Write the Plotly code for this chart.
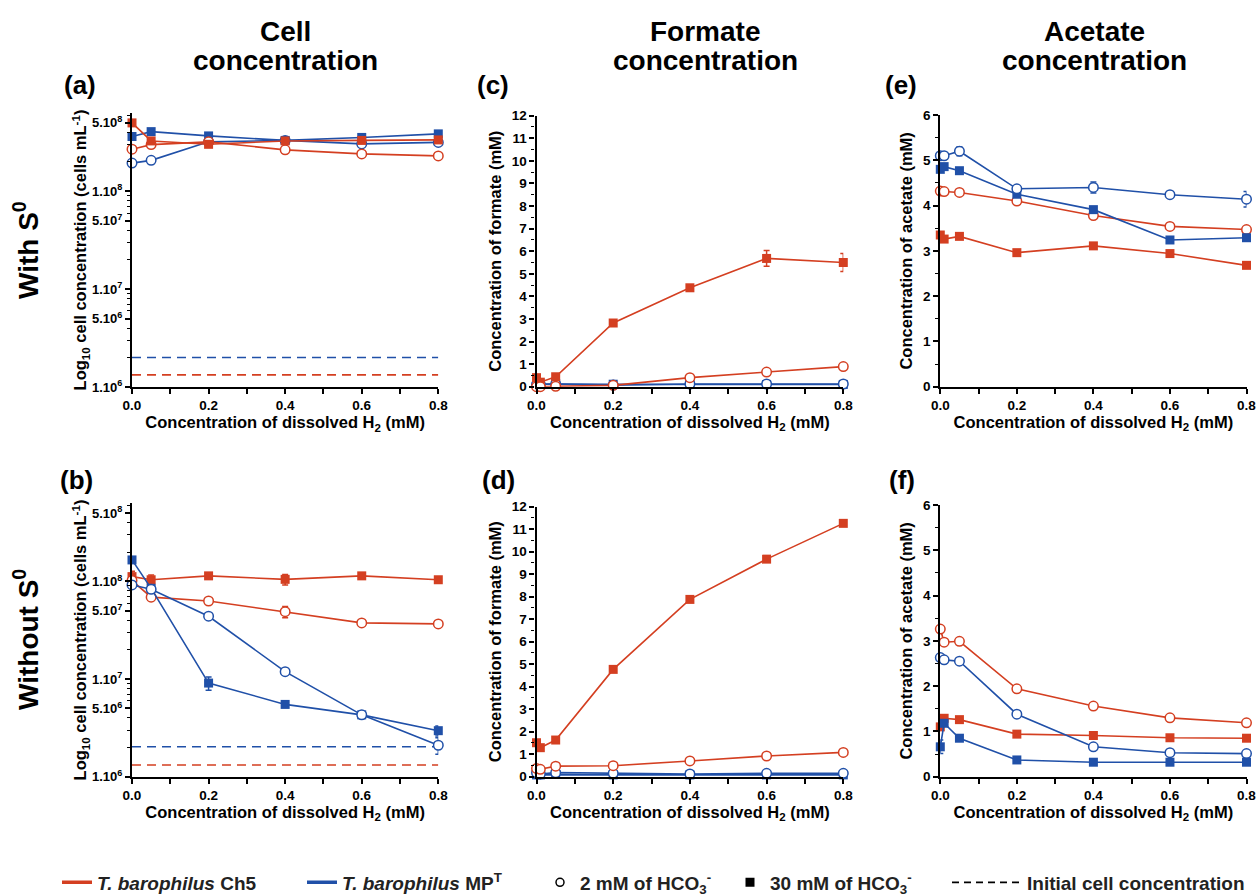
import plotly.graph_objects as go

RED = "#D43F21"
BLUE = "#2050A8"
FONT = "Liberation Sans"

# ---------------- data ----------------
x_cell = [0, 0.05, 0.2, 0.4, 0.6, 0.8]
x_acid = [0, 0.01, 0.05, 0.2, 0.4, 0.6, 0.8]
x_init = [0, 0.8]

# (a) cell concentration, with S0
a_ch5_30 = [5.0e8, 3.27e8, 3.02e8, 3.27e8, 3.31e8, 3.35e8]
a_ch5_2 = [2.69e8, 3.0e8, 3.2e8, 2.65e8, 2.41e8, 2.30e8]
a_mp_30 = [3.63e8, 4.07e8, 3.68e8, 3.31e8, 3.55e8, 3.86e8]
a_mp_2 = [1.94e8, 2.07e8, 3.2e8, 3.31e8, 3.05e8, 3.16e8]
a_init_ch5 = [1.33e6, 1.33e6]
a_init_mp = [2.0e6, 2.0e6]

# (b) cell concentration, without S0
b_ch5_30 = [1.12e8, 1.04e8, 1.14e8, 1.05e8, 1.14e8, 1.04e8]
b_ch5_30_err = [1.5e7, 1.2e7, 0, 1.3e7, 0, 0]
b_ch5_2 = [1.02e8, 6.9e7, 6.3e7, 4.9e7, 3.76e7, 3.67e7]
b_ch5_2_err = [0, 0, 0, 6.5e6, 0, 0]
b_mp_30 = [1.66e8, 8.5e7, 9.1e6, 5.5e6, 4.3e6, 2.96e6]
b_mp_30_err = [0, 0, 1.4e6, 0, 0, 3.5e5]
b_mp_2 = [9.2e7, 8.3e7, 4.4e7, 1.19e7, 4.3e6, 2.1e6]
b_mp_2_err = [0, 0, 0, 0, 3e5, 4e5]
b_init_ch5 = [1.32e6, 1.32e6]
b_init_mp = [2.03e6, 2.03e6]

# (c) formate, with S0
c_ch5_30 = [0.40, 0.20, 0.44, 2.82, 4.38, 5.68, 5.50]
c_ch5_30_err = [0, 0, 0, 0, 0.05, 0.35, 0.40]
c_ch5_2 = [0.0, 0.0, 0.02, 0.06, 0.40, 0.65, 0.89]
c_mp_30 = [0.12, 0.12, 0.14, 0.11, 0.10, 0.10, 0.10]
c_mp_2 = [0.10, 0.10, 0.12, 0.07, 0.12, 0.12, 0.12]

# (d) formate, without S0
d_ch5_30 = [1.51, 1.29, 1.63, 4.77, 7.88, 9.67, 11.26]
d_ch5_2 = [0.37, 0.33, 0.47, 0.49, 0.70, 0.92, 1.08]
d_mp_30 = [0.08, 0.08, 0.10, 0.08, 0.08, 0.08, 0.08]
d_mp_2 = [0.18, 0.12, 0.18, 0.15, 0.12, 0.15, 0.15]

# (e) acetate, with S0
e_ch5_30 = [3.35, 3.26, 3.32, 2.96, 3.11, 2.94, 2.68]
e_ch5_2 = [4.32, 4.31, 4.29, 4.10, 3.78, 3.54, 3.47]
e_mp_30 = [4.80, 4.86, 4.77, 4.25, 3.91, 3.24, 3.29]
e_mp_2 = [5.10, 5.10, 5.20, 4.37, 4.40, 4.24, 4.14]
e_mp_2_err = [0, 0, 0.10, 0, 0.12, 0, 0.17]

# (f) acetate, without S0
f_ch5_30 = [1.10, 1.29, 1.26, 0.94, 0.91, 0.86, 0.85]
f_ch5_2 = [3.26, 2.97, 2.99, 1.94, 1.56, 1.30, 1.19]
f_mp_30 = [0.66, 1.18, 0.85, 0.37, 0.32, 0.32, 0.32]
f_mp_30_err = [0.15, 0, 0, 0, 0, 0, 0]
f_mp_2 = [2.63, 2.58, 2.55, 1.38, 0.66, 0.53, 0.51]

x_ticks = [0, 0.2, 0.4, 0.6, 0.8]
x_ticktext = ["0.0", "0.2", "0.4", "0.6", "0.8"]
log_ticks = [1e6, 5e6, 1e7, 5e7, 1e8, 5e8]
log_ticktext = ["1.10<sup>6</sup>", "5.10<sup>6</sup>", "1.10<sup>7</sup>",
                "5.10<sup>7</sup>", "1.10<sup>8</sup>", "5.10<sup>8</sup>"]
log_minor = [m * 10 ** e for e in (6, 7, 8) for m in (2, 3, 4, 5, 6, 7, 8, 9)
             if m * 10 ** e not in log_ticks and m * 10 ** e <= 6e8]

fig = go.Figure()


def series(ax, x, y, color, filled, err=None):
    xr = "x" if ax == 1 else f"x{ax}"
    yr = "y" if ax == 1 else f"y{ax}"
    marker = dict(symbol="square", size=9, color=color,
                  line=dict(color=color, width=0)) if filled else \
        dict(symbol="circle", size=9.5, color="white",
             line=dict(color=color, width=1.5))
    tr = go.Scatter(x=x, y=y, mode="lines+markers", xaxis=xr, yaxis=yr,
                    line=dict(color=color, width=1.6), marker=marker,
                    showlegend=False, cliponaxis=False, hoverinfo="x+y")
    if err is not None:
        tr.error_y = dict(type="data", array=err, visible=True, color=color,
                          thickness=1.5, width=3)
    fig.add_trace(tr)


def init_line(ax, y, color):
    xr = "x" if ax == 1 else f"x{ax}"
    yr = "y" if ax == 1 else f"y{ax}"
    fig.add_trace(go.Scatter(x=x_init, y=y, mode="lines", xaxis=xr, yaxis=yr,
                             line=dict(color=color, width=1.6, dash="9px,6px"),
                             showlegend=False, hoverinfo="skip"))


# (a)
init_line(1, a_init_mp, BLUE)
init_line(1, a_init_ch5, RED)
series(1, x_cell, a_mp_2, BLUE, False)
series(1, x_cell, a_mp_30, BLUE, True)
series(1, x_cell, a_ch5_2, RED, False)
series(1, x_cell, a_ch5_30, RED, True)
# (b)
init_line(2, b_init_mp, BLUE)
init_line(2, b_init_ch5, RED)
series(2, x_cell, b_ch5_30, RED, True, b_ch5_30_err)
series(2, x_cell, b_ch5_2, RED, False, b_ch5_2_err)
series(2, x_cell, b_mp_30, BLUE, True, b_mp_30_err)
series(2, x_cell, b_mp_2, BLUE, False, b_mp_2_err)
# (c)
series(3, x_acid, c_mp_30, BLUE, True)
series(3, x_acid, c_mp_2, BLUE, False)
series(3, x_acid, c_ch5_30, RED, True, c_ch5_30_err)
series(3, x_acid, c_ch5_2, RED, False)
# (d)
series(4, x_acid, d_mp_30, BLUE, True)
series(4, x_acid, d_mp_2, BLUE, False)
series(4, x_acid, d_ch5_30, RED, True)
series(4, x_acid, d_ch5_2, RED, False)
# (e)
series(5, x_acid, e_ch5_30, RED, True)
series(5, x_acid, e_ch5_2, RED, False)
series(5, x_acid, e_mp_30, BLUE, True)
series(5, x_acid, e_mp_2, BLUE, False, e_mp_2_err)
# (f)
series(6, x_acid, f_ch5_30, RED, True)
series(6, x_acid, f_ch5_2, RED, False)
series(6, x_acid, f_mp_2, BLUE, False)
series(6, x_acid, f_mp_30, BLUE, True, f_mp_30_err)

# legend entries
LEGFONT = dict(family=FONT, size=19, color="#222222", weight="bold")
leg_items = [
    ("<i>T. barophilus</i> Ch5", dict(mode="lines", line=dict(color=RED, width=3.5)), "legend", 57),
    ("<i>T. barophilus</i> MP<sup>T</sup>", dict(mode="lines", line=dict(color=BLUE, width=3.5)), "legend2", 302),
    ("2 mM of HCO<sub>3</sub><sup>-</sup>", dict(mode="markers", marker=dict(symbol="circle", size=8, color="white", line=dict(color="black", width=1.5))), "legend3", 540),
    ("30 mM of HCO<sub>3</sub><sup>-</sup>", dict(mode="markers", marker=dict(symbol="square", size=9, color="black")), "legend4", 730),
    ("Initial cell concentration", dict(mode="lines", line=dict(color="black", width=1.6, dash="7px,5px")), "legend5", 947),
]
for name, style, lg, px in leg_items:
    fig.add_trace(go.Scatter(x=[None], y=[None], name=name, legend=lg,
                             showlegend=True, xaxis="x", yaxis="y", **style))

# ---------------- layout ----------------
W, H = 1257, 896
TICKFONT = dict(family=FONT, size=13.5, color="black", weight="bold")
TITLEFONT = dict(family=FONT, size=16.5, color="black", weight="bold")

xdom = {1: (132, 438.3), 2: (132, 438.3), 3: (536.5, 843.3), 4: (536.5, 843.3),
        5: (940.3, 1246.5), 6: (940.3, 1246.5)}
ydom = {1: (113, 387), 2: (503.3, 776.7), 3: (115.7, 386.7), 4: (506.7, 776.7),
        5: (115, 386.7), 6: (505, 776.7)}

layout = dict(width=W, height=H, margin=dict(l=0, r=0, t=0, b=0, autoexpand=False),
              paper_bgcolor="white", plot_bgcolor="white",
              font=dict(family=FONT, color="black"))

for i in range(1, 7):
    xn = "xaxis" if i == 1 else f"xaxis{i}"
    yn = "yaxis" if i == 1 else f"yaxis{i}"
    ya = "y" if i == 1 else f"y{i}"
    xa = "x" if i == 1 else f"x{i}"
    layout[xn] = dict(domain=[xdom[i][0] / W, xdom[i][1] / W], anchor=ya,
                      range=[0, 0.8], tickvals=x_ticks, ticktext=x_ticktext,
                      ticks="outside", ticklen=5, tickwidth=1.5, tickcolor="black",
                      minor=dict(tickvals=[0.1, 0.3, 0.5, 0.7], ticks="outside",
                                 ticklen=5, tickwidth=1.5, tickcolor="black"),
                      showline=True, linewidth=2.2, linecolor="black", automargin=False,
                      showgrid=False, zeroline=False, tickfont=TICKFONT,
                      title=dict(text="Concentration of dissolved H<sub>2</sub> (mM)",
                                 font=TITLEFONT, standoff=3))
    yd = [1 - ydom[i][1] / H, 1 - ydom[i][0] / H]
    ybase = dict(domain=yd, anchor=xa, showline=True, linewidth=2.2,
                 linecolor="black", showgrid=False, zeroline=False, automargin=False,
                 ticks="outside", tickwidth=1.5, tickcolor="black",
                 tickfont=TICKFONT)
    if i in (1, 2):
        ybase.update(type="log", range=[6, 8.8], tickvals=log_ticks,
                     ticktext=log_ticktext, ticklen=5,
                     minor=dict(tickvals=log_minor, ticks="outside", ticklen=3,
                                tickwidth=1.2, tickcolor="black"),
                     tickfont=dict(family=FONT, size=13, color="black", weight="bold"),
                     title=dict(text="Log<sub>10</sub> cell concentration (cells mL<sup>-1</sup>)",
                                font=TITLEFONT, standoff=0))
    elif i in (3, 4):
        ybase.update(range=[0, 12], tickvals=list(range(0, 13)), ticklen=5,
                     minor=dict(tickvals=[k + 0.5 for k in range(12)], ticks="outside",
                                ticklen=3, tickwidth=1.2, tickcolor="black"),
                     title=dict(text="Concentration of formate (mM)",
                                font=TITLEFONT, standoff=6))
    else:
        ybase.update(range=[0, 6], tickvals=list(range(0, 7)), ticklen=5,
                     minor=dict(tickvals=[k + 0.5 for k in range(6)], ticks="outside",
                                ticklen=3, tickwidth=1.2, tickcolor="black"),
                     title=dict(text="Concentration of acetate (mM)",
                                font=TITLEFONT, standoff=6))
    layout[yn] = ybase

for name, style, lg, px in leg_items:
    layout[lg] = dict(x=px / W, y=(H - 882.5) / H, xanchor="left", yanchor="middle",
                      orientation="h", font=LEGFONT, bgcolor="rgba(0,0,0,0)",
                      itemwidth=70 if lg == "legend5" else 30)

HEAD = dict(family=FONT, size=28, color="black", weight="bold")
annotations = []
for cx, l1 in [(285, "Cell"), (705, "Formate"), (1094, "Acetate")]:
    annotations.append(dict(text=l1, x=cx / W, y=1 - 32 / H, xref="paper", yref="paper",
                            showarrow=False, font=HEAD, xanchor="center", yanchor="middle"))
    annotations.append(dict(text="concentration", x=cx / W, y=1 - 61 / H, xref="paper",
                            yref="paper", showarrow=False, font=HEAD,
                            xanchor="center", yanchor="middle"))
for lab, lx, ly in [("(a)", 62, 85), ("(b)", 58, 480), ("(c)", 475, 85),
                    ("(d)", 480, 480), ("(e)", 883, 85), ("(f)", 887, 480)]:
    annotations.append(dict(text=lab, x=lx / W, y=1 - ly / H, xref="paper", yref="paper",
                            showarrow=False, font=dict(family=FONT, size=26, color="black",
                                                       weight="bold"),
                            xanchor="left", yanchor="middle"))
for lab, cy in [("With S<sup>0</sup>", 250), ("Without S<sup>0</sup>", 640)]:
    annotations.append(dict(text=lab, x=26 / W, y=1 - cy / H, xref="paper", yref="paper",
                            showarrow=False, textangle=-90, font=HEAD,
                            xanchor="center", yanchor="middle"))
layout["annotations"] = annotations

fig.update_layout(**layout)
fig.write_html("out.html", config={"displayModeBar": False},
               post_script="document.body.style.margin='0px';document.body.style.overflow='hidden';")
